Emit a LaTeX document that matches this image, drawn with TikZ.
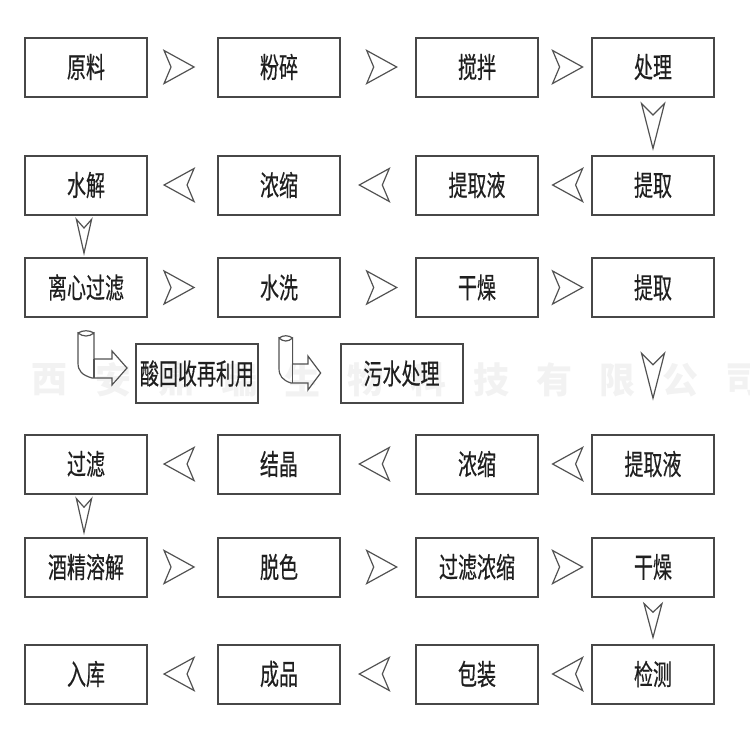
\documentclass[tikz,border=0pt]{standalone}
\usepackage{fontspec}
\setmainfont{Noto Sans CJK SC}
\newfontfamily\boxfont{Noto Sans CJK SC}[FakeBold=0.5]
\usetikzlibrary{calc}

\newcommand{\tallt}[1]{\scalebox{1}[1.5]{#1}}

\tikzset{
  box/.style={draw=black!72, line width=1pt, minimum width=61pt, minimum height=29.5pt,
    inner sep=0pt, font=\boxfont\fontsize{9.5}{10}\selectfont, text=black!88},
  wmark/.style={text=black!5, font=\fontsize{18}{19}\selectfont\bfseries, inner sep=0pt},
  arrowline/.style={draw=black!68, line width=0.6pt, line join=miter},
  harr/.pic={\path[arrowline] (-15,-16.5) -- (15,0) -- (-15,16.5) -- (-8,0) -- cycle;},
  varr/.pic={\path[arrowline] (-11.5,-22.5) -- (0,22.5) -- (11.5,-22.5) -- (0,-11) -- cycle;},
  bent/.pic={
    \path[arrowline] (0,0) .. controls (5,4) and (11,4) .. (16,0) -- (16,26) -- (34,26)
      -- (34,18) -- (49,35) -- (34,52) -- (34,45) -- (14,45)
      .. controls (4,42) and (0,38) .. (0,30) -- cycle;
    \path[arrowline] (0,0) .. controls (5,-3) and (11,-3) .. (16,0);
    \path[arrowline] (16,26) -- (16,45);
  }
}

\begin{document}
\begin{tikzpicture}[x=0.5pt, y=-0.5pt]
  \useasboundingbox (0,0) rectangle (750,750);
  % 水印
  \foreach \c [count=\i from 0] in {西,安,鼎,瑞,生,物,科,技,有,限,公,司}
    \node[wmark] (w\i) at (50+63*\i, 380) {\c};

  % 第一行
  \node[box] (yl) at (86,67) {\tallt{原料}};
  \node[box] (fs) at (279,67) {\tallt{粉碎}};
  \node[box] (jb) at (477,67) {\tallt{搅拌}};
  \node[box] (cl) at (653,67) {\tallt{处理}};
  % 第二行
  \node[box] (sj) at (86,185) {\tallt{水解}};
  \node[box] (ns1) at (279,185) {\tallt{浓缩}};
  \node[box] (tqy1) at (477,185) {\tallt{提取液}};
  \node[box] (tq1) at (653,185) {\tallt{提取}};
  % 第三行
  \node[box] (lx) at (86,287.5) {\tallt{离心过滤}};
  \node[box] (sx) at (279,287.5) {\tallt{水洗}};
  \node[box] (gz1) at (477,287.5) {\tallt{干燥}};
  \node[box] (tq2) at (653,287.5) {\tallt{提取}};
  % 副产
  \node[box] (hs) at (197,373.5) {\tallt{酸回收再利用}};
  \node[box] (ws) at (401.5,373.5) {\tallt{污水处理}};
  % 第四行
  \node[box] (gl) at (86,464) {\tallt{过滤}};
  \node[box] (jj) at (279,464) {\tallt{结晶}};
  \node[box] (ns2) at (477,464) {\tallt{浓缩}};
  \node[box] (tqy2) at (653,464) {\tallt{提取液}};
  % 第五行
  \node[box] (jjrj) at (86,567) {\tallt{酒精溶解}};
  \node[box] (ts) at (279,567) {\tallt{脱色}};
  \node[box] (glns) at (477,567) {\tallt{过滤浓缩}};
  \node[box] (gz2) at (653,567) {\tallt{干燥}};
  % 第六行
  \node[box] (rk) at (86,674) {\tallt{入库}};
  \node[box] (cp) at (279,674) {\tallt{成品}};
  \node[box] (bz) at (477,674) {\tallt{包装}};
  \node[box] (jc) at (653,674) {\tallt{检测}};

  % 向右
  \pic at ($(yl.east)!0.45!(fs.west)$) {harr};
  \pic at ($(fs.east)!0.55!(jb.west)$) {harr};
  \pic at ($(jb.east)!0.55!(cl.west)$) {harr};
  \pic at ($(lx.east)!0.45!(sx.west)$) {harr};
  \pic at ($(sx.east)!0.55!(gz1.west)$) {harr};
  \pic at ($(gz1.east)!0.55!(tq2.west)$) {harr};
  \pic at ($(jjrj.east)!0.45!(ts.west)$) {harr};
  \pic at ($(ts.east)!0.55!(glns.west)$) {harr};
  \pic at ($(glns.east)!0.55!(gz2.west)$) {harr};
  % 向左
  \pic[xscale=-1] at ($(tq1.west)!0.45!(tqy1.east)$) {harr};
  \pic[xscale=-1] at ($(tqy1.west)!0.55!(ns1.east)$) {harr};
  \pic[xscale=-1] at ($(ns1.west)!0.55!(sj.east)$) {harr};
  \pic[xscale=-1] at ($(tqy2.west)!0.45!(ns2.east)$) {harr};
  \pic[xscale=-1] at ($(ns2.west)!0.55!(jj.east)$) {harr};
  \pic[xscale=-1] at ($(jj.west)!0.55!(gl.east)$) {harr};
  \pic[xscale=-1] at ($(jc.west)!0.45!(bz.east)$) {harr};
  \pic[xscale=-1] at ($(bz.west)!0.55!(cp.east)$) {harr};
  \pic[xscale=-1] at ($(cp.west)!0.55!(rk.east)$) {harr};
  % 向下
  \pic at ($(cl.south)!0.5!(tq1.north)$) {varr};
  \pic at ($(tq2.south)!0.5!(tqy2.north)$) {varr};
  \pic[xscale=0.66, yscale=0.75] at ($(sj.south)!0.5!(lx.north)+(-2,0)$) {varr};
  \pic[xscale=0.66, yscale=0.75] at ($(gl.south)!0.5!(jjrj.north)+(-2,0)$) {varr};
  \pic[xscale=0.78, yscale=0.75] at ($(gz2.south)!0.5!(jc.north)$) {varr};
  % 弯箭头
  \pic at ($(lx.south west)+(54,15)$) {bent};
  \pic[xscale=0.85] at ($(sx.south west)+(62,20)$) {bent};
\end{tikzpicture}
\end{document}
